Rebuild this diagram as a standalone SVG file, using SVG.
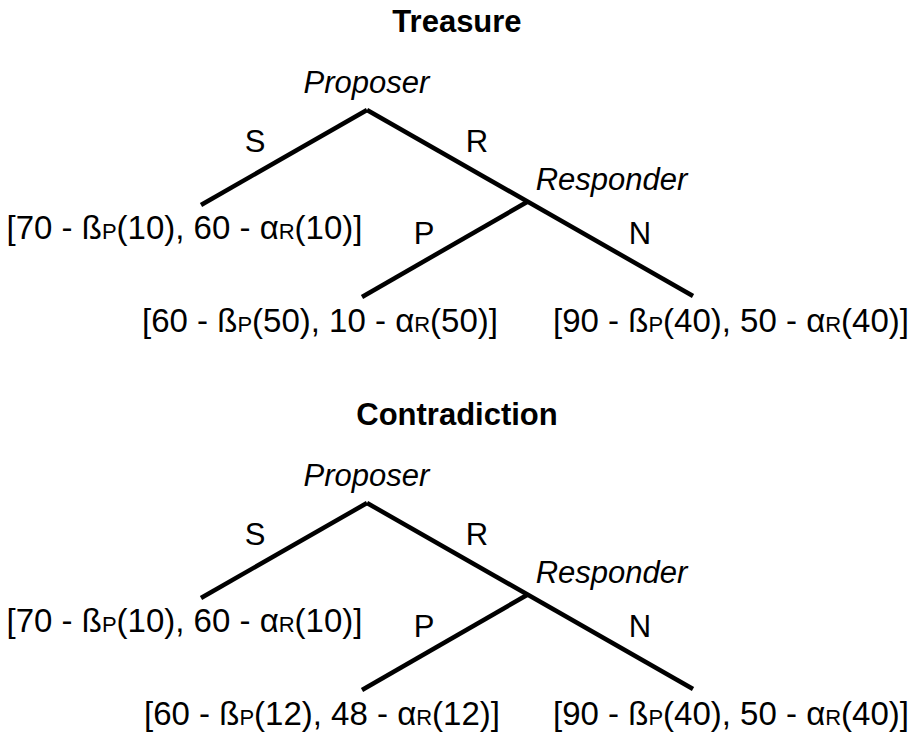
<svg xmlns="http://www.w3.org/2000/svg" width="913" height="732" viewBox="0 0 913 732">
<style>
text{font-family:"Liberation Sans",Arial,Helvetica,sans-serif;fill:#000}
.title{font-size:31px;font-weight:bold;text-anchor:middle}
.player{font-size:31px;font-style:italic;text-anchor:middle}
.lbl{font-size:31px;text-anchor:middle}
.pay{font-size:33px;text-anchor:middle}
.sub{font-size:22px}
.edge{stroke:#000;stroke-width:4.5;fill:none}
</style>
<rect width="913" height="732" fill="#fff"/>
<g id="tree-treasure">
  <text id="title-treasure" class="title" x="457" y="32">Treasure</text>
  <g id="connectors-1">
    <line class="edge" x1="367" y1="110" x2="201" y2="205"/>
    <line class="edge" x1="367" y1="110" x2="693" y2="296"/>
    <line class="edge" x1="527" y1="202" x2="362" y2="297"/>
    <text class="lbl" x="255" y="152">S</text>
    <text class="lbl" x="477" y="152">R</text>
    <text class="lbl" x="424" y="244">P</text>
    <text class="lbl" x="640" y="244">N</text>
  </g>
  <g id="t1-proposer"><text class="player" x="366.5" y="93">Proposer</text></g>
  <g id="t1-responder"><text class="player" x="611.5" y="190">Responder</text></g>
  <g id="t1-leaf-s"><text class="pay" x="184.5" y="239">[70 - ß<tspan class="sub">P</tspan>(10), 60 - α<tspan class="sub">R</tspan>(10)]</text></g>
  <g id="t1-leaf-p"><text class="pay" x="320" y="332">[60 - ß<tspan class="sub">P</tspan>(50), 10 - α<tspan class="sub">R</tspan>(50)]</text></g>
  <g id="t1-leaf-n"><text class="pay" x="731" y="332">[90 - ß<tspan class="sub">P</tspan>(40), 50 - α<tspan class="sub">R</tspan>(40)]</text></g>
</g>
<g id="tree-contradiction" transform="translate(0,393)">
  <text id="title-contradiction" class="title" x="457" y="32">Contradiction</text>
  <g id="connectors-2">
    <line class="edge" x1="367" y1="110" x2="201" y2="205"/>
    <line class="edge" x1="367" y1="110" x2="693" y2="296"/>
    <line class="edge" x1="527" y1="202" x2="362" y2="297"/>
    <text class="lbl" x="255" y="152">S</text>
    <text class="lbl" x="477" y="152">R</text>
    <text class="lbl" x="424" y="244">P</text>
    <text class="lbl" x="640" y="244">N</text>
  </g>
  <g id="t2-proposer"><text class="player" x="366.5" y="93">Proposer</text></g>
  <g id="t2-responder"><text class="player" x="611.5" y="190">Responder</text></g>
  <g id="t2-leaf-s"><text class="pay" x="184.5" y="239">[70 - ß<tspan class="sub">P</tspan>(10), 60 - α<tspan class="sub">R</tspan>(10)]</text></g>
  <g id="t2-leaf-p"><text class="pay" x="322" y="332">[60 - ß<tspan class="sub">P</tspan>(12), 48 - α<tspan class="sub">R</tspan>(12)]</text></g>
  <g id="t2-leaf-n"><text class="pay" x="731" y="332">[90 - ß<tspan class="sub">P</tspan>(40), 50 - α<tspan class="sub">R</tspan>(40)]</text></g>
</g>
</svg>
